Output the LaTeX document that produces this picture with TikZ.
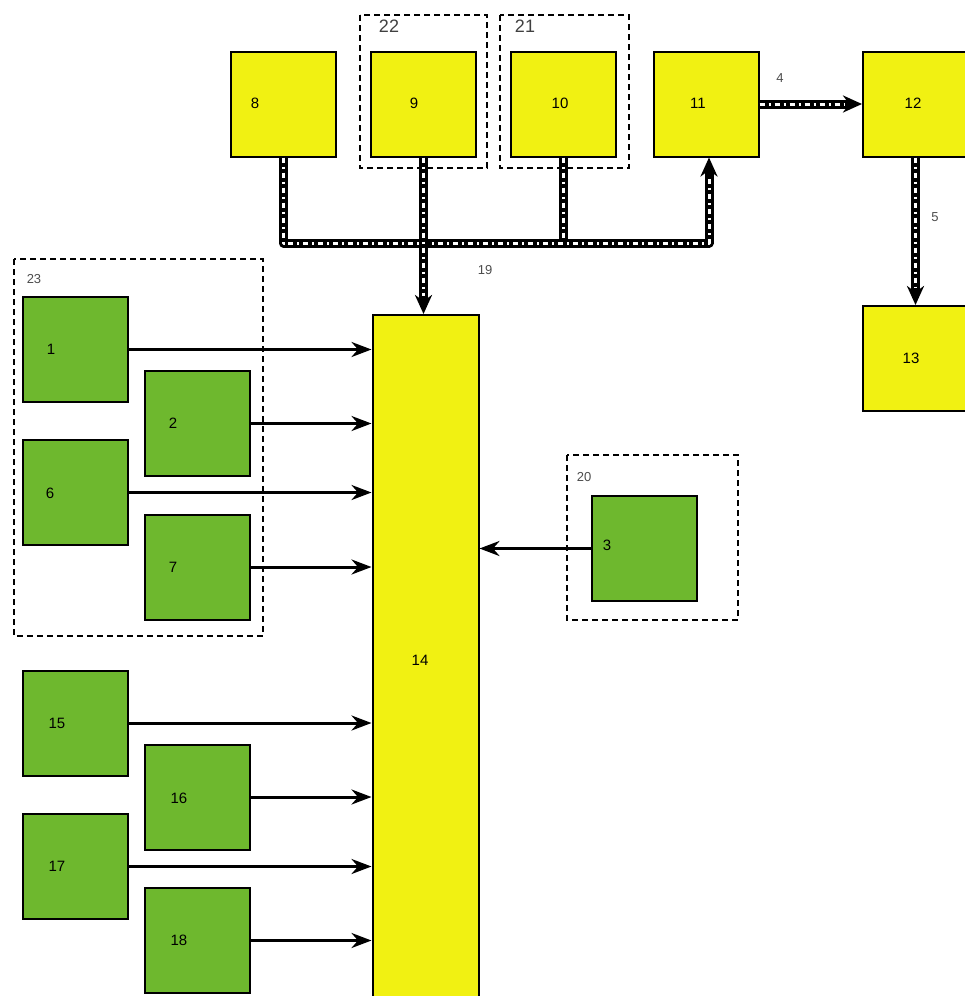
\documentclass[tikz,border=0pt]{standalone}
\usepackage{fontspec}
\setmainfont{Liberation Sans}
\usepackage{xcolor}
\usetikzlibrary{arrows.meta, positioning}
\definecolor{boxyellow}{RGB}{241,241,18}
\definecolor{boxgreen}{RGB}{110,184,46}
\tikzset{
  ybox/.style     = {rectangle, draw, line width=2pt, fill=boxyellow,
                     minimum width=105pt, minimum height=105pt, inner sep=0pt},
  gbox/.style     = {ybox, fill=boxgreen},
  group/.style    = {draw, line width=1.4pt, dash pattern=on 6pt off 4pt},
  num/.style      = {font=\fontsize{15}{17}\selectfont, text=black, inner sep=0pt},
  tag/.style      = {font=\fontsize{13}{15}\selectfont, text=black!70, inner sep=0pt},
  bigtag/.style   = {font=\fontsize{18}{20}\selectfont, text=black!75, inner sep=0pt},
  arrow/.style    = {-{Stealth[length=20pt,width=15pt]}, line width=3pt},
  bus/.style      = {line width=9pt, line join=round,       % double line, white dashes inside
                     postaction={draw=white, line width=3pt, arrows=-, shorten >=#1,
                                 dash pattern=on 5pt off 4pt on 2pt off 4pt}},
  bus/.default    = 0pt,
  busarrow/.style = {bus=18pt, -{Stealth[length=19pt,width=17pt]}}
}
\begin{document}
\begin{tikzpicture}[x=1pt, y=-1pt]
  \useasboundingbox (0,0) rectangle (964,996);
  % groups
  \draw[group] (360,15) rectangle (487,168);
  \draw[group] (500,15) rectangle (629,168);
  \draw[group] (14,259) rectangle (263,636);
  \draw[group] (567,455) rectangle (738,620);
  \node[bigtag] (g22) at (389,26) {22};
  \node[bigtag] (g21) at (525,26) {21};
  \node[tag] (g23) at (34,279) {23};
  \node[tag] (g20) at (584,477) {20};
  % top row
  \node[ybox] (b8)  at (283.5,104) {};
  \node[ybox] (b9)  at (423.5,104) {};
  \node[ybox] (b10) at (563.5,104) {};
  \node[ybox] (b11) at (706,104) {};
  \node[ybox] (b12) at (915.5,104) {};
  \node[ybox] (b13) at (915.5,358.5) {};
  \node[ybox, minimum width=106pt, minimum height=695pt] (b14) at (425.5,662.5) {};
  % green sources
  \node[gbox] (b1)  at (75,349.5) {};
  \node[gbox] (b2)  at (197,423.5) {};
  \node[gbox] (b6)  at (75,492.5) {};
  \node[gbox] (b7)  at (197,567) {};
  \node[gbox] (b3)  at (644,548.5) {};
  \node[gbox] (b15) at (75,723) {};
  \node[gbox] (b16) at (197,797) {};
  \node[gbox] (b17) at (75,866.5) {};
  \node[gbox] (b18) at (197,940.5) {};
  % numbers
  \node[num] (t8)  at (255,103) {8};
  \node[num] (t9)  at (414,103) {9};
  \node[num] (t10) at (560,103) {10};
  \node[num] (t11) at (698,103) {11};
  \node[num] (t12) at (913,103) {12};
  \node[num] (t13) at (911,358) {13};
  \node[num] (t14) at (420,660) {14};
  \node[num] (t1)  at (51,349) {1};
  \node[num] (t2)  at (173,423) {2};
  \node[num] (t6)  at (50,493) {6};
  \node[num] (t7)  at (173,567) {7};
  \node[num] (t3)  at (607,545) {3};
  \node[num] (t15) at (57,723) {15};
  \node[num] (t16) at (179,798) {16};
  \node[num] (t17) at (57,866) {17};
  \node[num] (t18) at (179,940) {18};
  % bus
  \coordinate (bus) at (709,243);
  \draw[bus] (b10.south) -- (b10.south |- bus);
  \draw[busarrow] (b8.south) |- (bus) -- (bus |- b11.south);
  \draw[busarrow] (b9.south) -- (b9.south |- b14.north);
  \draw[busarrow] (b11.east) -- (b12.west);
  \draw[busarrow] (b12.south) -- (b13.north);
  \node[tag] (l19) at (485,270) {19};
  \node[tag] (l4)  at (780,78) {4};
  \node[tag] (l5)  at (935,217) {5};
  % inputs
  \draw[arrow] (b1.east)  -- (b1.east -| b14.west);
  \draw[arrow] (b2.east)  -- (b2.east -| b14.west);
  \draw[arrow] (b6.east)  -- (b6.east -| b14.west);
  \draw[arrow] (b7.east)  -- (b7.east -| b14.west);
  \draw[arrow] (b15.east) -- (b15.east -| b14.west);
  \draw[arrow] (b16.east) -- (b16.east -| b14.west);
  \draw[arrow] (b17.east) -- (b17.east -| b14.west);
  \draw[arrow] (b18.east) -- (b18.east -| b14.west);
  \draw[arrow] (b3.west)  -- (b3.west -| b14.east);
\end{tikzpicture}
\end{document}
